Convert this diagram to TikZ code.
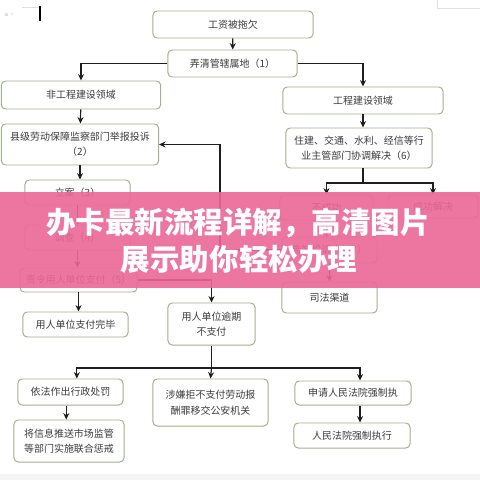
\documentclass[tikz,border=0pt]{standalone}
\usepackage{fontspec}
\usepackage{xcolor}
\usepackage{tikz}
\usetikzlibrary{arrows.meta, positioning, calc}
\newfontfamily\cjk{Noto Sans CJK SC}
\definecolor{boxborder}{RGB}{163, 176, 142}
\definecolor{boxtext}{RGB}{60, 60, 60}
\definecolor{linkcol}{RGB}{30, 30, 30}
\definecolor{bannerpink}{RGB}{236, 104, 150}
\tikzset{
  font=\cjk\fontsize{7.1}{11}\selectfont,
  baseblock/.style={
    rectangle, rounded corners=3pt, line width=0.7pt,
    draw=boxborder, fill=white, text=boxtext,
    inner sep=0pt, align=center
  },
  flowline/.style={
    draw=linkcol, -{Stealth[length=1.6mm, width=1.5mm]}, line width=0.85pt
  },
  plainline/.style={draw=linkcol, line width=0.85pt}
}
\begin{document}
\begin{tikzpicture}[x=0.025cm, y=-0.025cm]
  \useasboundingbox (0,0) rectangle (480,480);
  \fill[white] (0,0) rectangle (480,480);

  % screenshot leftovers
  \node[text=gray!60, font=\cjk\fontsize{4}{4}\selectfont, anchor=west] (marker) at (0,15) {a ·};
  \draw[gray!25, line width=0.4pt] (22,7) -- (40,7);
  \draw[black, line width=0.8pt] (40,6) -- (40,21);
  \draw[gray!25, line width=0.4pt] (437,0) -- (437,8) -- (480,8);
  \fill[gray!8] (0,474) rectangle (480,480);

  % Tier 1: start
  \node[baseblock, minimum width=4.0cm, minimum height=0.675cm] (wage_owed) at (233,24.5) {工资被拖欠};
  \node[baseblock, minimum width=3.225cm, minimum height=0.675cm] (juris) at (232.5,63.5) {弄清管辖属地（1）};

  % Tier 2: two areas
  \node[baseblock, minimum width=3.98cm, minimum height=0.7cm] (nonproj_area) at (81,95) {非工程建设领域};
  \node[baseblock, minimum width=4.0cm, minimum height=0.675cm] (proj_area) at (363,100.5) {工程建设领域};

  % Left column: labour inspection
  \node[baseblock, minimum width=3.93cm, minimum height=1.025cm] (labor_report) at (80,144.5) {县级劳动保障监察部门举报投诉\\（2）};
  \node[baseblock, minimum width=2.625cm, minimum height=0.625cm] (case_filed) at (77.5,192.5) {立案（3）};
  \node[baseblock, minimum width=2.625cm, minimum height=0.625cm] (investigate) at (77.5,237.5) {调查（4）};
  \node[baseblock, minimum width=2.925cm, minimum height=0.6cm] (order_pay) at (78.5,280) {责令用人单位支付（5）};
  \node[baseblock, minimum width=2.625cm, minimum height=0.625cm] (pay_done) at (75.5,324.5) {用人单位支付完毕};
  \node[baseblock, minimum width=2.175cm, minimum height=1.05cm] (overdue) at (211.5,324) {用人单位逾期\\不支付};

  % Right column: industry departments
  \node[baseblock, minimum width=3.65cm, minimum height=1.0cm] (dept_coord) at (359,148) {住建、交通、水利、经信等行\\业主管部门协调解决（6）};
  \node[baseblock, minimum width=2.325cm, minimum height=0.625cm] (fail_res) at (326.5,207.5) {不成功};
  \node[baseblock, minimum width=2.25cm, minimum height=0.575cm] (success_res) at (433,206.5) {成功解决};
  \node[baseblock, minimum width=2.375cm, minimum height=0.65cm] (notify) at (329.5,250) {告知投诉人（7）};
  \node[baseblock, minimum width=2.375cm, minimum height=0.775cm] (judicial) at (329.5,297.5) {司法渠道};

  % Bottom row: measures
  \node[baseblock, minimum width=2.625cm, minimum height=0.65cm] (admin_penalty) at (70.5,392) {依法作出行政处罚};
  \node[baseblock, minimum width=2.75cm, minimum height=1.05cm] (joint_punish) at (69,441) {将信息推送市场监管\\等部门实施联合惩戒};
  \node[baseblock, minimum width=2.875cm, minimum height=1.175cm] (police_transfer) at (210.5,402.5) {涉嫌拒不支付劳动报\\酬罪移交公安机关};
  \node[baseblock, minimum width=2.9cm, minimum height=0.6cm] (court_apply) at (353,393) {申请人民法院强制执};
  \node[baseblock, minimum width=2.9cm, minimum height=0.625cm] (court_exec) at (352,435.5) {人民法院强制执行};

  % Flows
  \draw[flowline] (wage_owed) -- (juris);
  \draw[flowline] (juris.west) -| (nonproj_area.north);
  \draw[flowline] (juris.east) -| (proj_area.north);
  \draw[flowline] (nonproj_area) -- (labor_report);
  \draw[flowline] (proj_area) -- (proj_area |- dept_coord.north);

  \draw[flowline] (labor_report) -- (labor_report |- case_filed.north);
  \draw[flowline] (case_filed) -- (investigate);
  \draw[flowline] (investigate) -- (investigate |- order_pay.north);
  \draw[flowline] (order_pay) -- (order_pay |- pay_done.north);
  \draw[flowline] (order_pay.east) -| (overdue.north);

  % Split below the departments
  \coordinate (split) at (363,183);
  \draw[plainline] (proj_area |- dept_coord.south) -- (split);
  \draw[flowline] (split) -| (fail_res.north);
  \draw[flowline] (split) -| (success_res.north);
  \draw[flowline] (fail_res) -- (fail_res |- notify.north);
  \draw[flowline] (notify) -- (judicial);
  \coordinate (back) at (220,250);
  \draw[flowline] (notify.west) -- (back) |- (labor_report.east);

  % Fan-out of overdue
  \coordinate (hub) at (211.5,368);
  \draw[plainline] (overdue.south) -- (hub);
  \draw[flowline] (hub) -| ([xshift=4.5]admin_penalty.north);
  \draw[flowline] (hub) -- (police_transfer.north);
  \draw[flowline] (hub) -| ([xshift=5]court_apply.north);
  \draw[flowline] ([xshift=-3]admin_penalty.south) -- ([xshift=-3]admin_penalty.south |- joint_punish.north);
  \draw[flowline] ([xshift=5]court_apply.south) -- ([xshift=5]court_apply.south |- court_exec.north);

  % Banner overlay
  \fill[bannerpink, opacity=0.9] (0,192) rectangle (480,288);
  \node[text=white, font=\cjk\bfseries\fontsize{21}{21}\selectfont] (banner_top) at (238,223) {办卡最新流程详解，高清图片};
  \node[text=white, font=\cjk\bfseries\fontsize{21}{21}\selectfont] (banner_bottom) at (239,259) {展示助你轻松办理};

\end{tikzpicture}
\end{document}
